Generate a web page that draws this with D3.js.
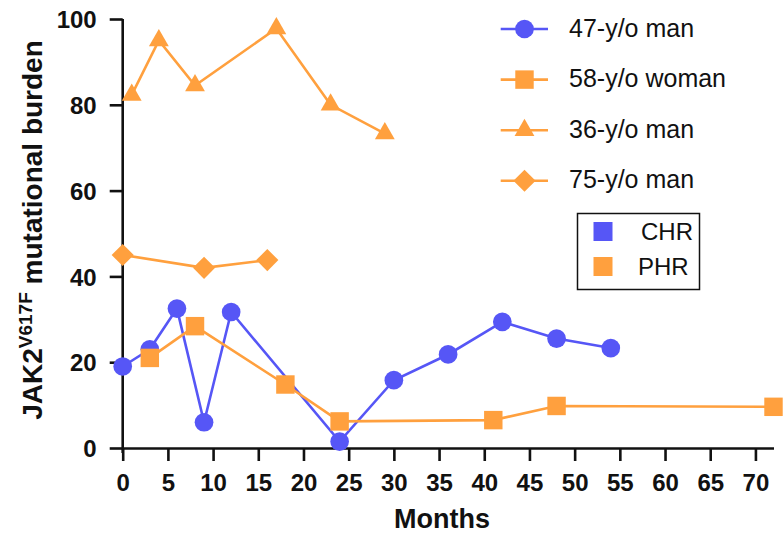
<!DOCTYPE html>
<html>
<head>
<meta charset="utf-8">
<script src="https://cdn.jsdelivr.net/npm/d3@7"></script>
<style>
  html, body { margin: 0; padding: 0; background: #fff; }
  text { font-family: "Liberation Sans", Arial, Helvetica, sans-serif; fill: #111; }
</style>
</head>
<body>
<div id="chart"></div>
<script>
// [1] DATA
const months47 = [0, 3, 6, 9, 12, 24, 30, 36, 42, 48, 54];
const burden47 = [19, 23, 32.5, 6, 31.7, 1.5, 15.8, 21.8, 29.4, 25.5, 23.3];
const months58 = [3, 8, 18, 24, 41, 48, 72];
const burden58 = [21, 28.4, 14.8, 6.2, 6.5, 9.8, 9.6];
const months36 = [1, 4, 8, 17, 23, 29];
const burden36 = [82.3, 95, 84.5, 97.8, 80, 73.3];
const months75 = [0, 9, 16];
const burden75 = [45, 42, 43.8];

const seriesNames = ['47-y/o man', '58-y/o woman', '36-y/o man', '75-y/o man'];
const responseNames = ['CHR', 'PHR'];
const xTicks = [0, 5, 10, 15, 20, 25, 30, 35, 40, 45, 50, 55, 60, 65, 70];
const yTicks = [0, 20, 40, 60, 80, 100];

const blue = '#5656f6';
const orange = '#ffa03e';

const series = [
  { name: seriesNames[0], months: months47, values: burden47, color: blue, shape: 'circle' },
  { name: seriesNames[1], months: months58, values: burden58, color: orange, shape: 'square' },
  { name: seriesNames[2], months: months36, values: burden36, color: orange, shape: 'triangle' },
  { name: seriesNames[3], months: months75, values: burden75, color: orange, shape: 'diamond' },
];

// [2] DIMENSIONS
const width = 783;
const height = 540;

const svg = d3.select('#chart').append('svg').attr('width', width).attr('height', height);

// [3] SCALES
const xScale = d3.scaleLinear().domain([0, 72]).range([122.7, 773.5]);
const yScale = d3.scaleLinear().domain([0, 100]).range([448, 19]);

// marker shapes (diamond is a square turned by 45 degrees)
const symbolPath = (shape) => {
  if (shape === 'circle') return d3.symbol(d3.symbolCircle, 275)();
  if (shape === 'square') return d3.symbol(d3.symbolSquare, 340)();
  if (shape === 'triangle') return d3.symbol(d3.symbolTriangle, 170)();
  return d3.symbol(d3.symbolSquare, 245)();
};
const symbolRotate = (shape) => (shape === 'diamond' ? ' rotate(45)' : '');

// [4] AXES
const xAxis = d3.axisBottom(xScale).tickValues(xTicks).tickSize(13).tickPadding(7).tickSizeOuter(0);
const yAxis = d3.axisLeft(yScale).tickValues(yTicks).tickSize(13).tickPadding(13).tickSizeOuter(0);

const gx = svg.append('g').attr('transform', `translate(0, ${yScale(0)})`).call(xAxis);
const gy = svg.append('g').attr('transform', `translate(${xScale(0)}, 0)`).call(yAxis);

[gx, gy].forEach((g) => {
  g.select('.domain').attr('stroke', '#111').attr('stroke-width', 2.6);
  g.selectAll('.tick line').attr('stroke', '#111').attr('stroke-width', 2.6);
  g.selectAll('.tick text')
    .attr('fill', '#111')
    .style('font-size', '24px')
    .style('font-weight', 'bold')
    .style('font-family', '"Liberation Sans", Arial, sans-serif');
});
gy.select('.domain').attr('d', `M0,${yScale(0) + 5}V${yScale(100)}`);
gx.selectAll('.tick text').attr('dy', '0.95em');
gy.selectAll('.tick text').attr('dy', '0.36em');

// axis titles
svg
  .append('text')
  .attr('x', 442)
  .attr('y', 528)
  .attr('text-anchor', 'middle')
  .style('font-size', '27px')
  .style('font-weight', 'bold')
  .text('Months');

const yTitle = svg
  .append('text')
  .attr('transform', 'translate(42, 230) rotate(-90)')
  .attr('text-anchor', 'middle')
  .style('font-size', '28px')
  .style('font-weight', 'bold');
yTitle.append('tspan').text('JAK2');
yTitle.append('tspan').attr('dy', -10).style('font-size', '19px').text('V617F');
yTitle.append('tspan').attr('dy', 10).text(' mutational burden');

// [5] LINES + MARKERS
const line = d3
  .line()
  .x((d) => xScale(d[0]))
  .y((d) => yScale(d[1]));

series.forEach((s) => {
  const pts = s.months.map((m, i) => [m, s.values[i]]);
  svg
    .append('path')
    .datum(pts)
    .attr('d', line)
    .attr('fill', 'none')
    .attr('stroke', s.color)
    .attr('stroke-width', 2.6);

  svg
    .append('g')
    .selectAll('path')
    .data(pts)
    .join('path')
    .attr('d', symbolPath(s.shape))
    .attr('transform', (d) => `translate(${xScale(d[0])}, ${yScale(d[1])})${symbolRotate(s.shape)}`)
    .attr('fill', s.color);
});

// [6] LEGEND (patients)
const legend = svg.append('g');
series.forEach((s, i) => {
  const cy = 29 + i * 50.6;
  legend
    .append('line')
    .attr('x1', 500.7)
    .attr('x2', 548)
    .attr('y1', cy)
    .attr('y2', cy)
    .attr('stroke', s.color)
    .attr('stroke-width', 2.6);
  legend
    .append('path')
    .attr('d', symbolPath(s.shape))
    .attr('transform', `translate(524.5, ${cy})${symbolRotate(s.shape)}`)
    .attr('fill', s.color);
  legend
    .append('text')
    .attr('x', 569)
    .attr('y', cy + 7.5)
    .style('font-size', '25px')
    .text(s.name);
});

// [7] LEGEND (response)
const box = svg.append('g');
box
  .append('rect')
  .attr('x', 577.5)
  .attr('y', 213.5)
  .attr('width', 122)
  .attr('height', 76)
  .attr('fill', '#fff')
  .attr('stroke', '#111')
  .attr('stroke-width', 1.5);
responseNames.forEach((name, i) => {
  const top = 222 + i * 35;
  box
    .append('rect')
    .attr('x', 593.5)
    .attr('y', top)
    .attr('width', 19)
    .attr('height', 19)
    .attr('fill', i === 0 ? blue : orange);
  box
    .append('text')
    .attr('x', i === 0 ? 641 : 638)
    .attr('y', top + 18)
    .style('font-size', '24px')
    .text(name);
});
</script>
</body>
</html>
